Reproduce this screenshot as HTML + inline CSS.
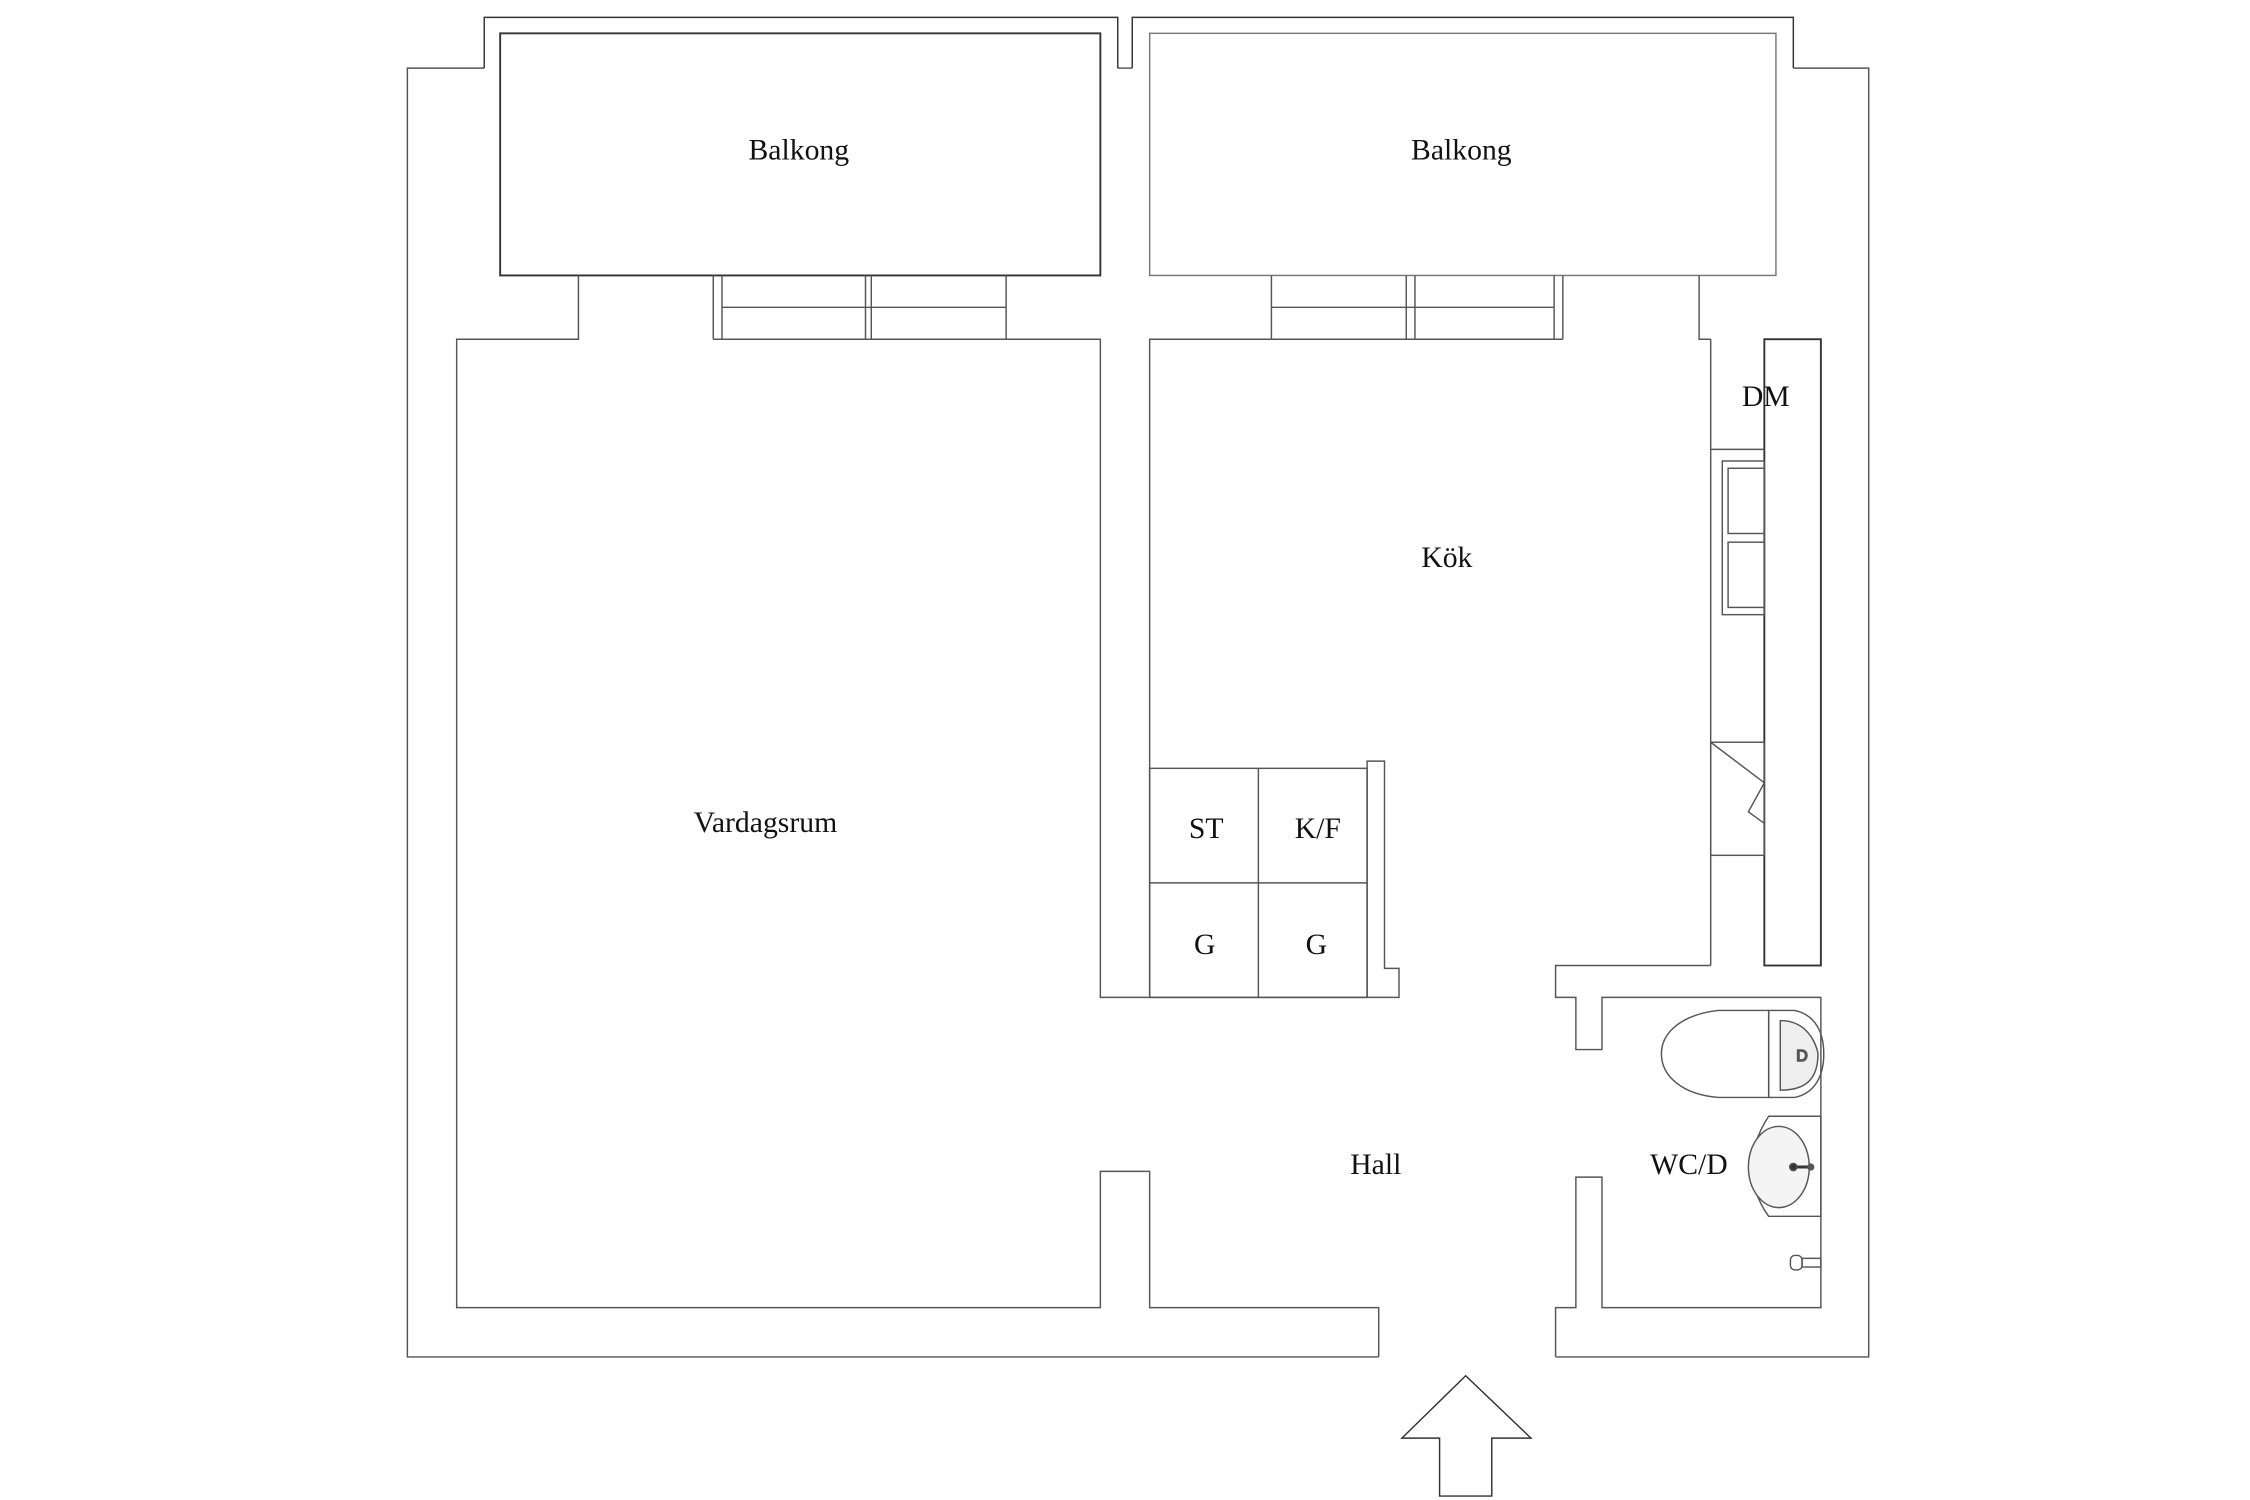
<!DOCTYPE html>
<html><head><meta charset="utf-8"><style>
html,body{margin:0;padding:0;background:#fff;}
svg{display:block;}
text{font-family:"Liberation Serif",serif;font-size:20.5px;fill:#111;text-anchor:middle;}
</style></head><body>
<svg width="2250" height="1500" viewBox="0 0 1552 1034.7" preserveAspectRatio="none" xmlns="http://www.w3.org/2000/svg">
<g fill="none" stroke="#555" stroke-width="1">
<polyline points="334,47 281,47 281,936 951,936"/>
<polyline points="1073,936 1289,936 1289,47 1237,47"/>
<polyline points="771,47 781,47"/>
<polyline points="334,47 334,12 771,12 771,47" stroke="#333"/>
<polyline points="781,47 781,12 1237,12 1237,47" stroke="#333"/>
<rect x="345" y="23" width="414" height="167" stroke="#333" stroke-width="1.3"/>
<rect x="793" y="23" width="432" height="167" stroke="#777"/>
<polyline points="399,190 399,234 315,234 315,902 759,902 759,808 793,808 793,902 951,902 951,936"/>
<polyline points="492,234 759,234 759,688 965,688 965,668 955,668 955,525 943,525 943,688"/>
<polyline points="492,190 492,234"/><polyline points="498,190 498,234"/>
<polyline points="597,190 597,234"/><polyline points="601,190 601,234"/>
<polyline points="694,190 694,234"/>
<line x1="498" y1="212" x2="694" y2="212"/>
<polyline points="877,190 877,234"/><polyline points="970,190 970,234"/><polyline points="976,190 976,234"/>
<polyline points="1072,190 1072,234"/><polyline points="1078,190 1078,234"/>
<line x1="877" y1="212" x2="1072" y2="212"/>
<polyline points="793,688 793,234 1078,234"/>
<polyline points="1172,190 1172,234 1180,234"/>
<rect x="793" y="530" width="150" height="158"/>
<line x1="868" y1="530" x2="868" y2="688"/>
<line x1="793" y1="609" x2="943" y2="609"/>
<line x1="1180" y1="234" x2="1180" y2="666"/>
<rect x="1217" y="234" width="39" height="432" stroke="#333" stroke-width="1.3"/>
<line x1="1180" y1="310" x2="1217" y2="310"/>
<rect x="1188" y="318" width="29" height="106"/>
<rect x="1192" y="323" width="25" height="45"/>
<rect x="1192" y="374" width="25" height="45"/>
<rect x="1180" y="512" width="37" height="78"/>
<polyline points="1180,512 1217,540 1206,560 1217,568"/>
<polyline points="1180,666 1073,666 1073,688 1087,688 1087,724 1105,724 1105,688 1256,688 1256,902 1105,902 1105,812 1087,812 1087,902 1073,902 1073,936"/>
<path d="M1220,697 L1185,697 C1160,700 1146,712 1146,727 C1146,742 1160,755 1185,757 L1220,757 Z"/>
<path d="M1220,697 L1238,697 C1252,700 1258,712 1258,727 C1258,742 1252,754 1238,757 L1220,757 Z"/>
<path d="M1228,704 C1250,704 1254,726 1254,727 C1254,745 1245,752 1228,752 Z" fill="#eee"/>
<text x="1243" y="732" style="font-size:11px;font-family:'Liberation Sans',sans-serif">D</text>
<path d="M1256,770 L1220,770 C1212,782 1208,796 1208,805 C1208,815 1212,828 1220,839 L1256,839 Z"/>
<ellipse cx="1227" cy="805" rx="21" ry="28" fill="#f4f4f4"/>
<line x1="1237" y1="805" x2="1249" y2="805" stroke="#333" stroke-width="2"/>
<circle cx="1237" cy="805" r="2.5" fill="#333"/>
<circle cx="1249" cy="805" r="2" fill="#555"/>
<rect x="1235" y="866" width="8" height="10" rx="3"/>
<rect x="1243" y="868" width="13" height="6"/>
<polygon points="1011,949 1056,992 1029,992 1029,1032 993,1032 993,992 967,992" stroke="#333"/>
</g>
<text x="551" y="110">Balkong</text>
<text x="1008" y="110">Balkong</text>
<text x="528" y="574">Vardagsrum</text>
<text x="998" y="391">Kök</text>
<text x="1218" y="280">DM</text>
<text x="832" y="578">ST</text>
<text x="909" y="578">K/F</text>
<text x="831" y="658">G</text>
<text x="908" y="658">G</text>
<text x="949" y="810">Hall</text>
<text x="1165" y="810">WC/D</text>
</svg>
</body></html>
